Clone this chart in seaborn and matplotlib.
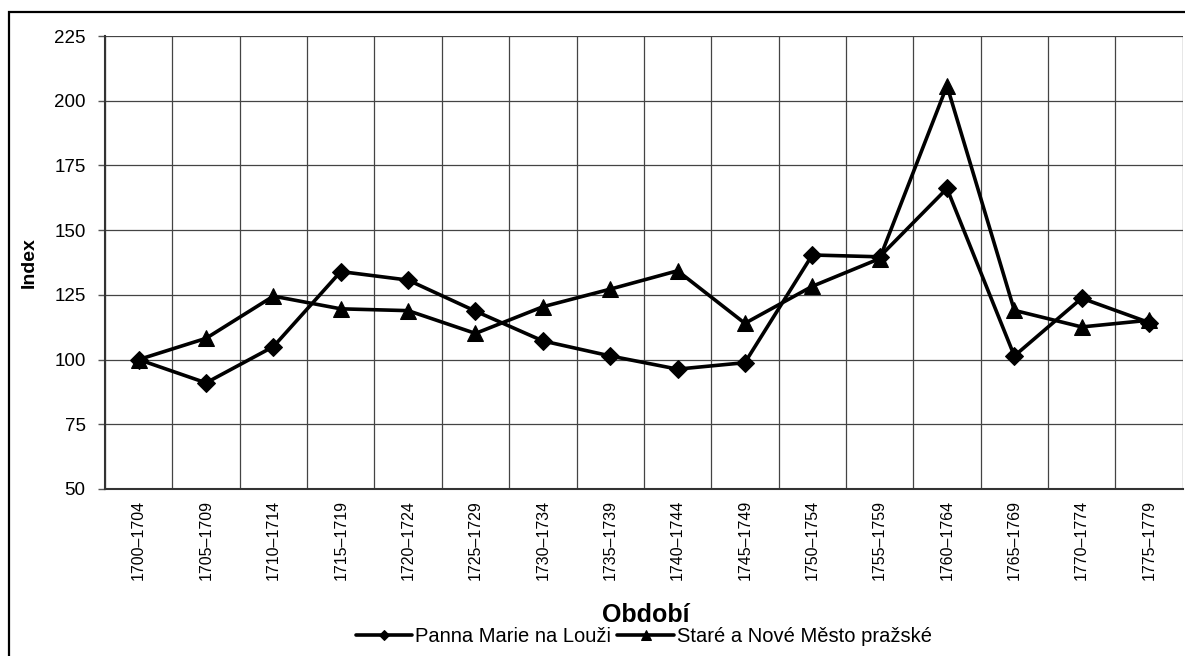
import pandas as pd
import seaborn as sns
import matplotlib.pyplot as plt
from matplotlib.patches import Rectangle

periods = ['1700–1704', '1705–1709', '1710–1714', '1715–1719', '1720–1724',
           '1725–1729', '1730–1734', '1735–1739', '1740–1744', '1745–1749',
           '1750–1754', '1755–1759', '1760–1764', '1765–1769', '1770–1774',
           '1775–1779']
panna_marie = [100, 91, 105, 134, 130.7, 118.7, 107.2, 101.4, 96.3, 98.8,
               140.4, 139.7, 166.1, 101.4, 123.7, 114.3]
stare_nove = [100, 108.2, 124.5, 119.6, 118.9, 110.1, 120.4, 127.2, 134.3, 114,
              128.3, 139, 205.8, 119, 112.6, 115.2]
y_ticks = [50, 75, 100, 125, 150, 175, 200, 225]

sns.set_style('white')
plt.rcParams['font.family'] = ['Liberation Sans', 'DejaVu Sans']
plt.rcParams.update({'text.color': 'black', 'axes.labelcolor': 'black',
                     'xtick.color': 'black', 'ytick.color': 'black'})

df = pd.DataFrame({'period': periods, 'pm': panna_marie, 'sn': stare_nove})
df['pos'] = range(len(periods))

fig = plt.figure(figsize=(11.85, 6.56), dpi=100)
ax = fig.add_axes([0.0886, 0.2546, 0.9095, 0.6905])

sns.lineplot(data=df, x='pos', y='pm', ax=ax, color='black', lw=2.6,
             marker='D', markersize=9, markeredgecolor='black',
             label='Panna Marie na Louži')
sns.lineplot(data=df, x='pos', y='sn', ax=ax, color='black', lw=2.6,
             marker='^', markersize=12, markeredgecolor='black',
             label='Staré a Nové Město pražské')

n = len(periods)
ax.set_xlim(-0.5, n - 0.5)
ax.set_ylim(50, 225)
ax.set_yticks(y_ticks)
ax.set_xticks(range(n))
ax.set_xticklabels(periods, rotation=90, fontsize=11.5)
ax.set_xticks([i - 0.5 for i in range(n + 1)], minor=True)
ax.tick_params(axis='x', which='major', length=0, pad=8)
ax.tick_params(axis='x', which='minor', length=5, width=1, color='#555555')
ax.tick_params(axis='y', length=5, width=1, labelsize=13.5, pad=9,
               color='#555555', left=True)
ax.grid(True, which='minor', axis='x', color='#444444', lw=0.9)
ax.grid(True, which='major', axis='y', color='#444444', lw=0.9)
ax.set_axisbelow(True)

for side in ['top', 'right']:
    ax.spines[side].set_visible(False)
ax.spines['left'].set_color('#333333')
ax.spines['bottom'].set_color('#333333')
ax.spines['left'].set_linewidth(1.5)
ax.spines['bottom'].set_linewidth(1.5)

ax.set_ylabel('Index', fontsize=14, fontweight='bold')
ax.yaxis.set_label_coords(-0.062, 0.5)
ax.set_xlabel('Období', fontsize=18, fontweight='bold')
ax.xaxis.set_label_coords(0.502, -0.251)

ax.legend(loc='center', bbox_to_anchor=(0.5, -0.326), ncol=2,
          frameon=False, fontsize=14.5, handlelength=2.8, columnspacing=0.3,
          handletextpad=0.15, borderpad=0, markerscale=0.6)

# outer chart border
fig.patches.append(Rectangle((9 / 1185, -0.05), 1.1, 1 - 12 / 656 + 0.05,
                             transform=fig.transFigure, fill=False,
                             edgecolor='black', lw=1.6))

fig.savefig('out.png', dpi=100)
